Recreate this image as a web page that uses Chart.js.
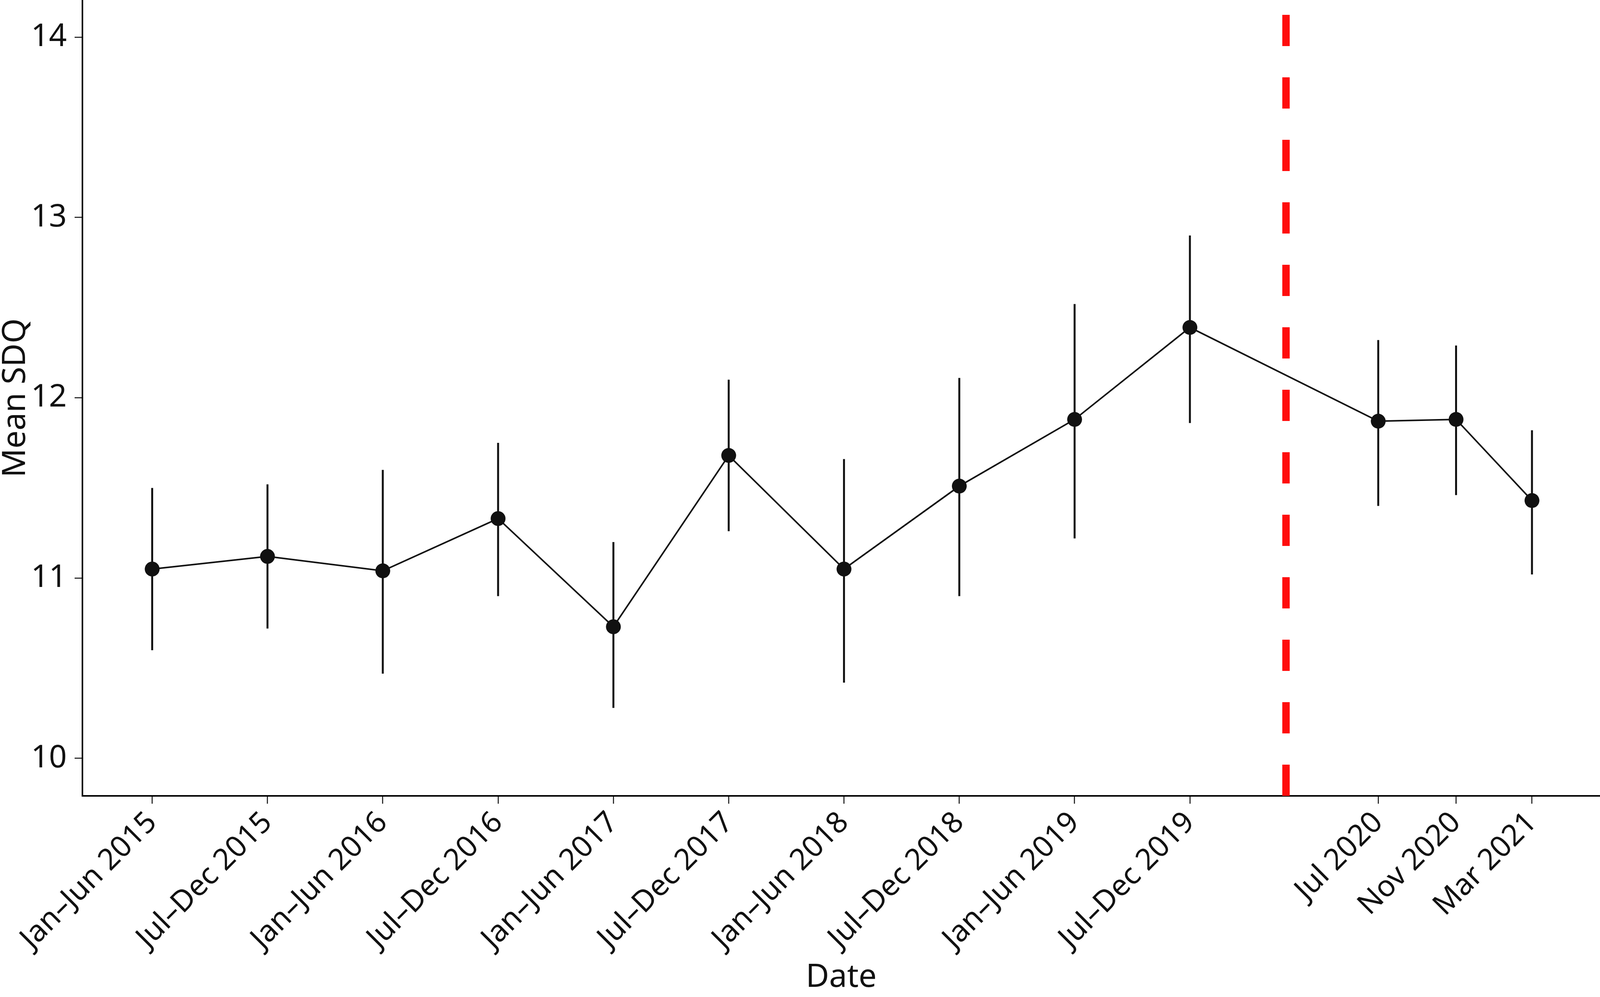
<!DOCTYPE html>
<html>
<head>
<meta charset="utf-8">
<script src="https://cdn.jsdelivr.net/npm/chart.js@4"></script>
<style>
  html, body { margin: 0; padding: 0; background: #fff; overflow: hidden; }
  #wrap { position: relative; width: 100vw; height: 100vh; }
</style>
</head>
<body>
<div id="wrap"><canvas id="sdq"></canvas></div>
<script>
// Mean SDQ by period, with 95% CI bars and a marker at the first lockdown.
const labels = ["Jan–Jun 2015", "Jul–Dec 2015", "Jan–Jun 2016", "Jul–Dec 2016", "Jan–Jun 2017", "Jul–Dec 2017",
  "Jan–Jun 2018", "Jul–Dec 2018", "Jan–Jun 2019", "Jul–Dec 2019", "Jul 2020", "Nov 2020", "Mar 2021"];
// months since Jan 2015
const months = [3, 9, 15, 21, 27, 33, 39, 45, 51, 57, 66.8, 70.85, 74.8];
const means = [11.05, 11.12, 11.04, 11.33, 10.73, 11.68, 11.05, 11.51, 11.88, 12.39, 11.87, 11.88, 11.43];
const lower = [10.60, 10.72, 10.47, 10.90, 10.28, 11.26, 10.42, 10.90, 11.22, 11.86, 11.40, 11.46, 11.02];
const upper = [11.50, 11.52, 11.60, 11.75, 11.20, 12.10, 11.66, 12.11, 12.52, 12.90, 12.32, 12.29, 11.82];
const yTicks = [10, 11, 12, 13, 14];
const lockdownMonth = 62;

const Y_MIN = 9.792, Y_MAX = 14.206;
const X_MIN = -0.63, X_MAX = 78.34;
const INK = "#111";
const FONT = "'Noto Sans', 'DejaVu Sans', sans-serif";

const errorBars = {
  id: "errorBars",
  beforeDatasetsDraw(chart) {
    const { ctx, scales: { x, y } } = chart;
    ctx.save();
    ctx.strokeStyle = INK;
    ctx.lineWidth = 5;
    months.forEach((m, i) => {
      const px = x.getPixelForValue(m);
      ctx.beginPath();
      ctx.moveTo(px, y.getPixelForValue(lower[i]));
      ctx.lineTo(px, y.getPixelForValue(upper[i]));
      ctx.stroke();
    });
    ctx.restore();
  },
};

new Chart(document.getElementById("sdq"), {
  type: "line",
  data: {
    datasets: [
      {
        data: months.map((m, i) => ({ x: m, y: means[i] })),
        borderColor: INK, borderWidth: 4,
        pointRadius: 19, pointBackgroundColor: INK, pointBorderWidth: 0,
        tension: 0, order: 2,
      },
      {
        // drawn bottom-up so the dash pattern starts at the x axis
        data: [{ x: lockdownMonth, y: Y_MIN }, { x: lockdownMonth, y: Y_MAX }],
        borderColor: "#ff0d0d", borderWidth: 19, borderDash: [80, 80],
        borderCapStyle: "butt", pointRadius: 0, order: 1,
      },
    ],
  },
  options: {
    responsive: true, maintainAspectRatio: false, devicePixelRatio: 1, animation: false,
    layout: { padding: 0, autoPadding: false },
    plugins: { legend: { display: false }, tooltip: { enabled: false } },
    scales: {
      x: {
        type: "linear", min: X_MIN, max: X_MAX,
        afterBuildTicks: (axis) => { axis.ticks = months.map((v) => ({ value: v })); },
        afterFit: (axis) => { axis.height = 515; axis.paddingLeft = 0; axis.paddingRight = 0; },
        ticks: {
          callback: (v) => labels[months.indexOf(v)],
          autoSkip: false, maxRotation: 45, minRotation: 45,
          color: INK, font: { family: FONT, size: 76 }, padding: 4,
        },
        grid: { drawOnChartArea: false, tickLength: 20, tickColor: "#333", tickWidth: 3 },
        border: { display: true, color: "#000", width: 4 },
        title: { display: true, text: "Date", color: INK, font: { family: FONT, size: 82, lineHeight: 1 }, padding: { top: 0, bottom: 8 } },
      },
      y: {
        min: Y_MIN, max: Y_MAX,
        afterBuildTicks: (axis) => { axis.ticks = yTicks.map((v) => ({ value: v })); },
        afterFit: (axis) => { axis.width = 211; axis.paddingTop = 0; axis.paddingBottom = 0; },
        ticks: { color: INK, font: { family: FONT, size: 80 }, padding: 20 },
        grid: { drawOnChartArea: false, tickLength: 20, tickColor: "#333", tickWidth: 3 },
        border: { display: true, color: "#000", width: 4 },
        title: { display: true, text: "Mean SDQ", color: INK, font: { family: FONT, size: 82, lineHeight: 1 }, padding: { top: 0, bottom: 0 } },
      },
    },
  },
  plugins: [errorBars],
});
</script>
</body>
</html>
